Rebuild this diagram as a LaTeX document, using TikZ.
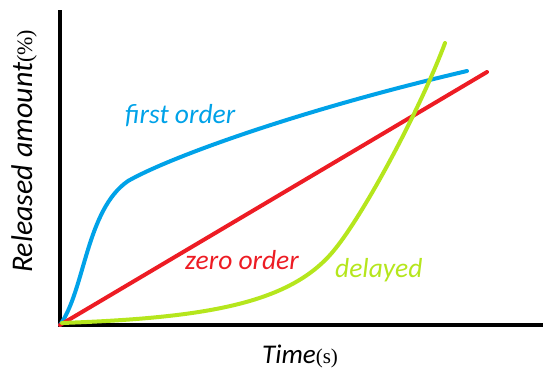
\documentclass[tikz,border=0pt]{standalone}
\usepackage{fontspec}
\setmainfont{Carlito}
\newfontfamily\unitfont{Liberation Serif}

\definecolor{firstblue}{RGB}{0,162,232}
\definecolor{zerored}{RGB}{237,28,36}
\definecolor{delaygreen}{RGB}{181,230,29}

\tikzset{
    curve/.style={line width=4pt, line cap=round, line join=round},
    curvelabel/.style={font=\itshape\fontsize{27.5}{30}\selectfont, anchor=base west, inner sep=0pt},
    axislabel/.style={font=\itshape\fontsize{27}{30}\selectfont, anchor=base west, inner sep=0pt},
}

\begin{document}
\begin{tikzpicture}[x=1pt,y=-1pt]
            \useasboundingbox (0,0) rectangle (543,370);

            \coordinate (O) at (60,325);
            \coordinate (ytop) at (60,10);
            \coordinate (xend) at (543,325);
            \coordinate (fbend) at (128,181);
            \coordinate (fend) at (467,71);
            \coordinate (zend) at (487,72);
            \coordinate (dstart) at (62,323);
            \coordinate (dbend) at (330,255);
            \coordinate (dend) at (445,43);

            % axes
            \draw[line width=4pt] (ytop) -- (O) -- (xend);

            % release curves
            \draw[curve, firstblue] (O) .. controls (85,290) and (86,210) .. (fbend)
                .. controls (170,157) and (300,110) .. (fend);
            \draw[curve, zerored] (O) -- (zend);
            \draw[curve, delaygreen] (dstart) .. controls (200,318) and (285,305) .. (dbend)
                .. controls (360,222) and (420,110) .. (dend);

            \node[curvelabel, text=firstblue] (first) at (125,123) {first order};
            \node[curvelabel, text=zerored] (zero) at (185,269) {zero order};
            \node[curvelabel, text=delaygreen] (delay) at (335,277) {delayed};

            \node[axislabel] (xlabel) at (262,363) {Time{\unitfont\upshape\fontsize{21}{24}\selectfont(s)}};
            \node[axislabel, rotate=90, font=\itshape\fontsize{30}{32}\selectfont] (ylabel) at (32,273) {Released amount{\unitfont\upshape\fontsize{22}{24}\selectfont(\%)}};
\end{tikzpicture}
\end{document}
